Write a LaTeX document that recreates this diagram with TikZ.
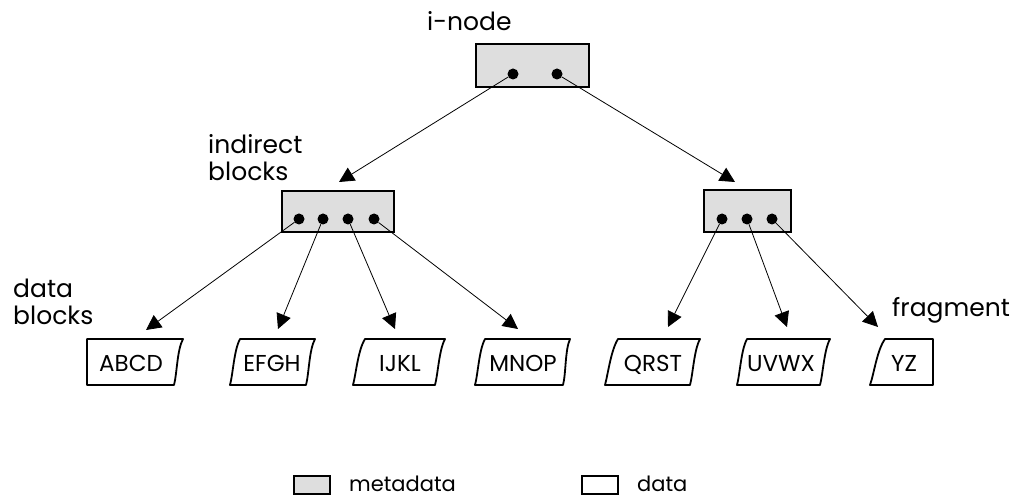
\documentclass[tikz,border=0pt]{standalone}
\usepackage{fontspec}
\setmainfont{Poppins}
\usetikzlibrary{arrows.meta}
\definecolor{metagray}{RGB}{222,222,222}
\begin{document}
\begin{tikzpicture}[x=1pt,y=-1pt,
  meta/.style={draw=black, line width=2.6pt, fill=metagray, inner sep=0pt},
  dot/.style={circle, fill=black, inner sep=0pt, minimum size=11pt},
  link/.style={line width=0.8pt, -{Triangle[length=15pt,width=15pt]}},
  lbl/.style={font=\fontsize{25}{27}\selectfont, inner sep=0pt, align=left},
  legendtext/.style={font=\fontsize{21}{24}\selectfont, inner sep=0pt},
  blocktext/.style={font=\fontsize{23}{26}\selectfont, inner sep=0pt},
  edge/.style={line width=1.8pt, line join=round},
]
\useasboundingbox (0,0) rectangle (1013,497);

% i-node with its two pointers
\node[meta, minimum width=113pt, minimum height=43pt] (inode) at (532.5,65.5) {};
\node[dot] (i1) at (513,74) {};
\node[dot] (i2) at (557,74) {};
\node[lbl, anchor=base west] (inodelbl) at (427,31) {i-node};

% indirect blocks
\node[meta, minimum width=112pt, minimum height=41pt] (indL) at (338,211.5) {};
\node[dot] (l1) at (299,219) {};
\node[dot] (l2) at (323,219) {};
\node[dot] (l3) at (348,219) {};
\node[dot] (l4) at (374,219) {};
\node[meta, minimum width=87pt, minimum height=42pt] (indR) at (747.5,211) {};
\node[dot] (r1) at (722,219) {};
\node[dot] (r2) at (747,219) {};
\node[dot] (r3) at (772,219) {};
\node[lbl, anchor=base west] (indlbl) at (208,181) {indirect\\blocks};

% arrow tips above the blocks they point to
\coordinate (tL) at (339,182);
\coordinate (tR) at (735,182);
\coordinate (t1) at (146,330);
\coordinate (t2) at (278,329);
\coordinate (t3) at (395,329);
\coordinate (t4) at (518,329);
\coordinate (t5) at (668,327);
\coordinate (t6) at (787,327);
\coordinate (t7) at (878,327);

\draw[link] (i1) -- (tL);
\draw[link] (i2) -- (tR);
\draw[link] (l1) -- (t1);
\draw[link] (l2) -- (t2);
\draw[link] (l3) -- (t3);
\draw[link] (l4) -- (t4);
\draw[link] (r1) -- (t5);
\draw[link] (r2) -- (t6);
\draw[link] (r3) -- (t7);

% data blocks: straight edge at the file ends, torn edges elsewhere
\draw[edge] (87,339) -- (183,339)
  .. controls (177,350) and (177,374) .. (174,385) -- (87,385) -- cycle;
\draw[edge] (240,339) -- (315,339)
  .. controls (309,350) and (309,374) .. (306,385) -- (230,385)
  .. controls (233,374) and (234,350) .. (240,339) -- cycle;
\draw[edge] (365,339) -- (445,339)
  .. controls (439,350) and (438,374) .. (435,385) -- (353,385)
  .. controls (356,374) and (358,350) .. (365,339) -- cycle;
\draw[edge] (485,339) -- (570,339)
  .. controls (565,350) and (566,374) .. (563,385) -- (475,385)
  .. controls (478,374) and (479,350) .. (485,339) -- cycle;
\draw[edge] (618,339) -- (700,339)
  .. controls (694,350) and (693,374) .. (690,385) -- (605,385)
  .. controls (608,374) and (611,350) .. (618,339) -- cycle;
\draw[edge] (747,339) -- (830,339)
  .. controls (824,350) and (823,374) .. (820,385) -- (737,385)
  .. controls (740,374) and (741,350) .. (747,339) -- cycle;
\draw[edge] (885,339) -- (933,339) -- (933,385) -- (870,385)
  .. controls (874,374) and (877,350) .. (885,339) -- cycle;

\node[blocktext, anchor=base] (b1) at (131,371) {ABCD};
\node[blocktext, anchor=base] (b2) at (272,371) {EFGH};
\node[blocktext, anchor=base] (b3) at (400,371) {IJKL};
\node[blocktext, anchor=base] (b4) at (523,371) {MNOP};
\node[blocktext, anchor=base] (b5) at (653,371) {QRST};
\node[blocktext, anchor=base] (b6) at (781,371) {UVWX};
\node[blocktext, anchor=base] (b7) at (904,371) {YZ};

\node[lbl, anchor=base west] (datalbl) at (13,325) {data\\blocks};
\node[lbl, anchor=base west] (fraglbl) at (892,317) {fragment};

% legend
\node[meta, line width=2pt, minimum width=36pt, minimum height=18pt] (keymeta) at (312,485) {};
\node[legendtext, anchor=base west] (keymetalbl) at (349,491) {metadata};
\node[draw=black, line width=2pt, inner sep=0pt, minimum width=36pt, minimum height=18pt] (keydata) at (600,485) {};
\node[legendtext, anchor=base west] (keydatalbl) at (637,491) {data};
\end{tikzpicture}
\end{document}
